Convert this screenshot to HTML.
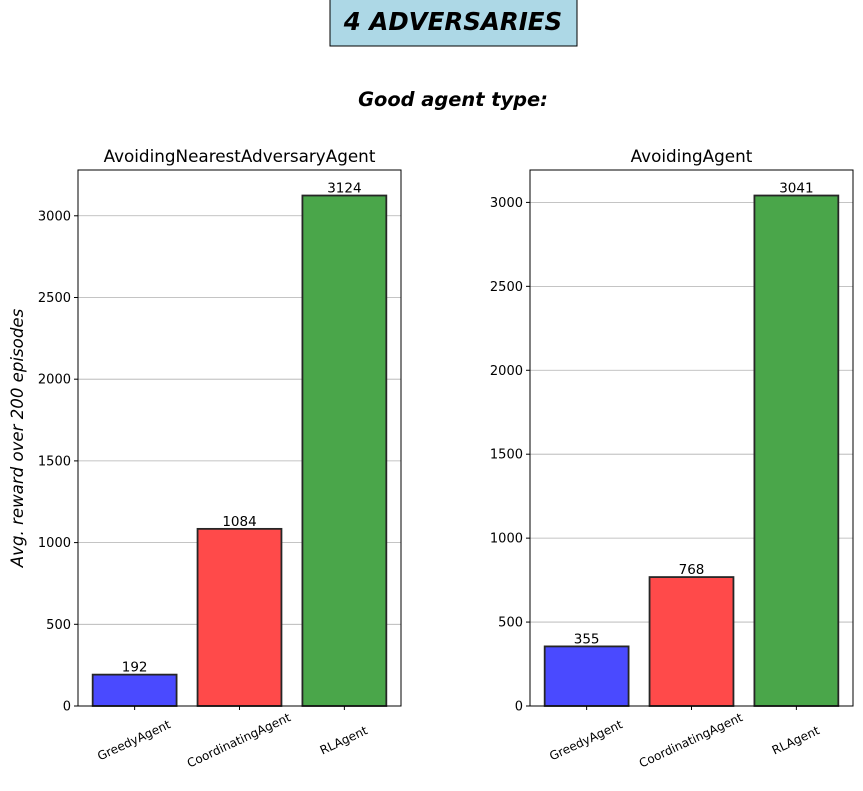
<!DOCTYPE html>
<html><head><meta charset="utf-8"><style>
body{margin:0;background:#fff;font-family:"DejaVu Sans","Liberation Sans",sans-serif;}
</style></head><body>
<svg id="chart" width="863" height="787" xmlns="http://www.w3.org/2000/svg" font-family="DejaVu Sans, Liberation Sans, sans-serif">
<rect x="330" y="-2" width="247" height="48" fill="#add8e6" stroke="#000" stroke-width="1"/>
<text x="453" y="30" text-anchor="middle" font-size="24.5" font-weight="bold" font-style="italic">4 ADVERSARIES</text>
<text x="453" y="106" text-anchor="middle" font-size="19.4" font-weight="bold" font-style="italic">Good agent type:</text>
<text transform="translate(23,438) rotate(-90)" text-anchor="middle" font-size="16.6" font-style="italic">Avg. reward over 200 episodes</text>
<g id="panels"></g>
</svg>
<script>
const categories=["GreedyAgent","CoordinatingAgent","RLAgent"];
const panelTitles=["AvoidingNearestAdversaryAgent","AvoidingAgent"];
const valuesLeft=[192,1084,3124];
const valuesRight=[355,768,3041];
const ticksLeft=[0,500,1000,1500,2000,2500,3000];
const ticksRight=[0,500,1000,1500,2000,2500,3000];
const colors=["#4a4aff","#ff4a4a","#4aa64a"];
const NS="http://www.w3.org/2000/svg";
const g=document.getElementById("panels");
function mk(tag,attrs,parent){const e=document.createElementNS(NS,tag);for(const k in attrs)e.setAttribute(k,attrs[k]);(parent||g).appendChild(e);return e;}
function panel(x0,title,vals,ticks,idx){
  const y0=170,y1=706,w=323;
  const ymax=Math.max(...vals)*1.05;
  const ys=v=>y1-(v/ymax)*(y1-y0);
  const xs=i=>x0+(i+0.54)/3.08*w;
  const bw=0.8/3.08*w;
  ticks.forEach(t=>{
    const l=mk("line",{x1:x0,x2:x0+w,y1:ys(t),y2:ys(t),stroke:"#b0b0b0","stroke-width":0.8});
    
    
    const tk=mk("line",{x1:x0-4,x2:x0,y1:ys(t),y2:ys(t),stroke:"#000"});
    
    
    const tx=mk("text",{x:x0-7,y:ys(t)+4.5,"text-anchor":"end","font-size":13});
    tx.textContent=t;
    
    
  });
  vals.forEach((v,i)=>{
    const r=mk("rect",{x:xs(i)-bw/2,y:ys(v),width:bw,height:y1-ys(v),fill:colors[i],stroke:"#262626","stroke-width":1.8});
    
    
    const lb=mk("text",{x:xs(i),y:ys(v)-3,"text-anchor":"middle","font-size":13.5});
    lb.textContent=v;
    
    
    const tk=mk("line",{x1:xs(i),x2:xs(i),y1:y1,y2:y1+4,stroke:"#000"});
    
    
    const xl=mk("text",{transform:`translate(${xs(i)+1},${y1+38}) rotate(-25)`,"text-anchor":"middle","font-size":12});
    xl.textContent=categories[i];
    
    
  });
  const f=mk("rect",{x:x0,y:y0,width:w,height:y1-y0,fill:"none",stroke:"#000","stroke-width":1});
  
  
  const tt=mk("text",{x:x0+w/2,y:y0-8,"text-anchor":"middle","font-size":16.8});
  tt.textContent=title;
  
  
}
panel(78,panelTitles[0],valuesLeft,ticksLeft,0);
panel(530,panelTitles[1],valuesRight,ticksRight,1);
</script>
</body></html>
